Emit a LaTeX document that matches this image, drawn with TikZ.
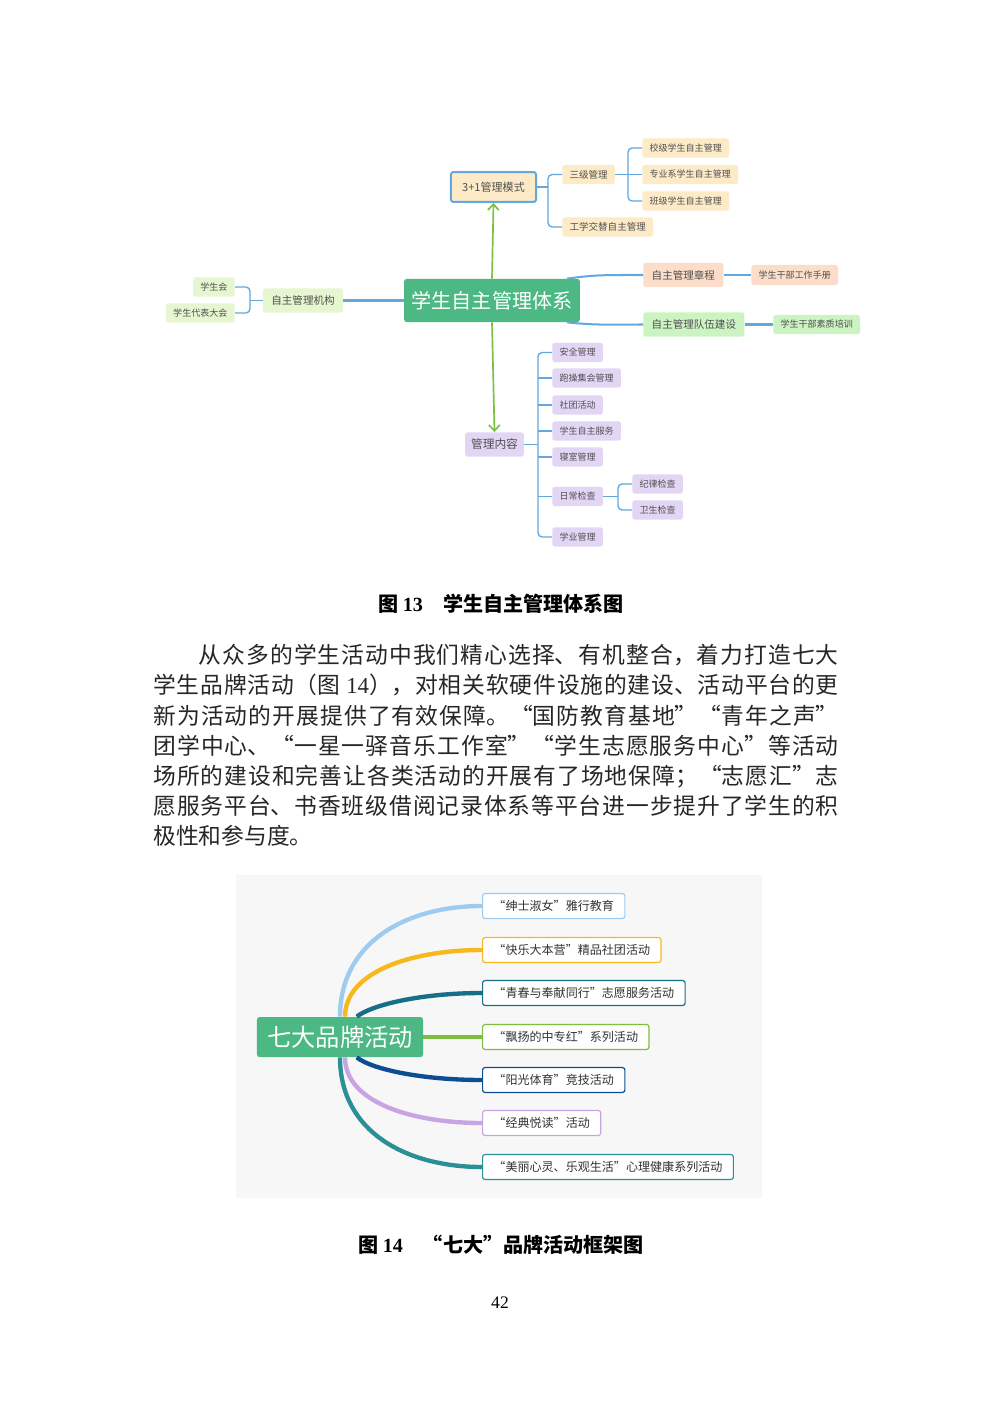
\documentclass[tikz,border=0pt]{standalone}
\usepackage{fontspec}
\setmainfont{Noto Sans CJK SC}
\newfontfamily\lat{Liberation Serif}
\XeTeXlinebreaklocale "zh"
\XeTeXlinebreakskip=0pt plus 2pt
\usepackage{xcolor}
\usetikzlibrary{arrows,arrows.meta,positioning}
\definecolor{mgreen}{RGB}{76,184,131}
\definecolor{lblue}{RGB}{98,168,222}
\definecolor{agreen}{RGB}{122,193,66}
\definecolor{fillor}{RGB}{253,235,200}
\definecolor{fillpe}{RGB}{251,221,201}
\definecolor{fillgr}{RGB}{230,246,208}
\definecolor{fillgr2}{RGB}{204,243,194}
\definecolor{fillpu}{RGB}{227,214,245}
\definecolor{txt}{RGB}{80,80,80}
\definecolor{bgray}{RGB}{247,247,247}
\definecolor{c1}{RGB}{158,203,240}
\definecolor{c2}{RGB}{246,184,28}
\definecolor{c3}{RGB}{22,110,135}
\definecolor{c4}{RGB}{125,190,62}
\definecolor{c5}{RGB}{13,78,146}
\definecolor{c6}{RGB}{201,164,228}
\definecolor{c7}{RGB}{43,144,150}
\begin{document}
\begin{tikzpicture}[x=0.021cm, y=-0.021cm, >={Straight Barb[length=3.5pt,width=6.5pt]},
main node/.style={rectangle, rounded corners=1.5pt, fill=mgreen, text=white, minimum width=105pt, minimum height=25.7pt, inner sep=0pt, font=\fontsize{12}{12}\selectfont},
lvA/.style={rectangle, rounded corners=1.5pt, anchor=west, fill=#1, text=txt, minimum height=14.5pt, inner xsep=5pt, inner ysep=0pt, font=\fontsize{6.3}{7}\selectfont},
lvB/.style={rectangle, rounded corners=1.5pt, anchor=west, fill=#1, text=txt, minimum height=11.5pt, inner xsep=4.3pt, inner ysep=0pt, font=\fontsize{5.4}{6}\selectfont},
lnk/.style={draw=lblue, line width=0.8pt, rounded corners=2.5pt},
lnkb/.style={draw=lblue, line width=1.2pt},
garrow/.style={->, draw=agreen, line width=1pt},
brand/.style={rectangle, rounded corners=1.5pt, anchor=west, draw=#1, line width=0.7pt, fill=white, text=black!80, minimum height=14.9pt, inner xsep=6.5pt, inner ysep=0pt, font=\fontsize{7.2}{8}\selectfont},
thread/.style={draw=#1, line width=2.6pt},
figcap/.style={font=\fontsize{12}{14}\selectfont\bfseries, text=black},
para/.style={anchor=north west, inner sep=0pt, text width=409.4pt, align=justify, text=black!85, font=\fontsize{13.6}{18.05}\selectfont}]
\fill[white] (0,0) rectangle (1000,1414);
\useasboundingbox (0,0) rectangle (1000,1414);
\node[main node] (c) at (492,300.5) {学生自主管理体系};
\node[lvA=fillor, draw=lblue, line width=1.2pt, anchor=center, minimum width=50.8pt, minimum height=17.9pt, font=\fontsize{6.6}{7}\selectfont] (m) at (493.5,187) {3+1管理模式};
\node[lvB=fillor, font=\fontsize{5.7}{6}\selectfont] (sj) at (562,174.5) {三级管理};
\node[lvB=fillor, font=\fontsize{5.7}{6}\selectfont] (gx) at (562,227) {工学交替自主管理};
\node[lvB=fillor] (x1) at (642,148) {校级学生自主管理};
\node[lvB=fillor] (x2) at (642,174.5) {专业系学生自主管理};
\node[lvB=fillor] (x3) at (642,201) {班级学生自主管理};
\node[lvA=fillpe] (zc) at (643,275) {自主管理章程};
\node[lvB=fillpe, minimum height=12pt] (sc) at (751,275) {学生干部工作手册};
\node[lvA=fillgr2] (dw) at (643,324.5) {自主管理队伍建设};
\node[lvB=fillgr2] (px) at (773,324.5) {学生干部素质培训};
\node[lvA=fillgr, anchor=center] (jg) at (303,300.5) {自主管理机构};
\node[lvB=fillgr, anchor=east] (xh) at (235,287) {学生会};
\node[lvB=fillgr, anchor=east] (db) at (235,313) {学生代表大会};
\node[lvA=fillpu, anchor=center, inner xsep=3.5pt, font=\fontsize{7}{8}\selectfont] (nr) at (494.5,444.5) {管理内容};
\foreach \n/\y/\t in {a1/352.5/安全管理, a2/378/跑操集会管理, a3/405/社团活动, a4/431/学生自主服务, a5/457/寝室管理, a6/496.5/日常检查, a7/537/学业管理}
  \node[lvB=fillpu] (\n) at (552,\y) {\t};
\node[lvB=fillpu] (r1) at (632,484) {纪律检查};
\node[lvB=fillpu] (r2) at (632,510) {卫生检查};
\draw[lnk] (m.east) -- (548,187) coordinate (mj);
\draw[lnk] (sj.west) -| (mj) |- (gx.west);
\draw[lnk] (sj.east) -- (x2.west);
\coordinate (sjj) at (628,174.5);
\draw[lnk] (x1.west) -| (sjj) |- (x3.west);
\draw[lnk] (jg.west) -- (250,300.5) coordinate (jgj);
\draw[lnk] (xh.east) -| (jgj) |- (db.east);
\draw[lnk] (nr.east) -- (538,444.5) coordinate (nrj);
\draw[lnk] (a1.west) -| (nrj) |- (a7.west);
\foreach \n in {a2,a3,a4,a5,a6}
  \draw[lnk] (nrj |- \n.west) -- (\n.west);
\draw[lnk] (a6.east) -- (618,496.5) coordinate (a6j);
\draw[lnk] (r1.west) -| (a6j) |- (r2.west);
\path[lnkb] (c.west) edge (jg.east)
(zc.east) edge (sc.west)
(dw.east) edge (px.west);
\draw[lnkb] ([xshift=-8pt]c.north east) .. controls +(30,-4) and +(-40,0) .. (zc.west);
\draw[lnkb] ([xshift=-8pt]c.south east) .. controls +(30,3) and +(-40,0) .. (dw.west);
\draw[garrow] (c.north) -- (m.south);
\draw[garrow] (c.south) -- (nr.north);
\node[figcap] (cap13) at (501,604) {图 {\lat 13}\hspace{1em}学生自主管理体系图};
\node[para] (txt) at (153,644) {\hspace*{2em}从众多的学生活动中我们精心选择、有机整合，着力打造七大\linebreak
学生品牌活动（图 {\lat 14}），对相关软硬件设施的建设、活动平台的更\linebreak
新为活动的开展提供了有效保障。“国防教育基地”“青年之声”\linebreak
团学中心、“一星一驿音乐工作室”“学生志愿服务中心”等活动\linebreak
场所的建设和完善让各类活动的开展有了场地保障；“志愿汇”志\linebreak
愿服务平台、书香班级借阅记录体系等平台进一步提升了学生的积\linebreak
极性和参与度。};
\fill[bgray] (236,875) rectangle (762,1198);
\node[main node, minimum width=99.2pt, minimum height=23.9pt, font=\fontsize{14.5}{15}\selectfont] (k) at (340,1037) {七大品牌活动};
\node[brand=c1] (p1) at (482,906) {“绅士淑女”雅行教育};
\node[brand=c2] (p2) at (482,950) {“快乐大本营”精品社团活动};
\node[brand=c3] (p3) at (482,993) {“青春与奉献同行”志愿服务活动};
\node[brand=c4] (p4) at (482,1037) {“飘扬的中专红”系列活动};
\node[brand=c5] (p5) at (482,1080) {“阳光体育”竞技活动};
\node[brand=c6] (p6) at (482,1123) {“经典悦读”活动};
\node[brand=c7] (p7) at (482,1167) {“美丽心灵、乐观生活”心理健康系列活动};
\draw[thread=c1] (k.north) .. controls +(0,-75) and +(-75,0) .. (p1.west);
\draw[thread=c2] ([xshift=3pt]k.north) .. controls +(0,-45) and +(-70,0) .. (p2.west);
\draw[thread=c3] ([xshift=10pt]k.north) .. controls +(15,-12) and +(-60,0) .. (p3.west);
\draw[thread=c4] (k.east) -- (p4.west);
\draw[thread=c5] ([xshift=10pt]k.south) .. controls +(15,12) and +(-60,0) .. (p5.west);
\draw[thread=c6] ([xshift=3pt]k.south) .. controls +(0,45) and +(-70,0) .. (p6.west);
\draw[thread=c7] (k.south) .. controls +(0,75) and +(-75,0) .. (p7.west);
\node[figcap] (cap14) at (501,1245) {图 {\lat 14}\hspace{1em}“七大”品牌活动框架图};
\node[font=\fontsize{10.5}{12}\lat] (pg) at (500,1303) {42};
\end{tikzpicture}
\end{document}
